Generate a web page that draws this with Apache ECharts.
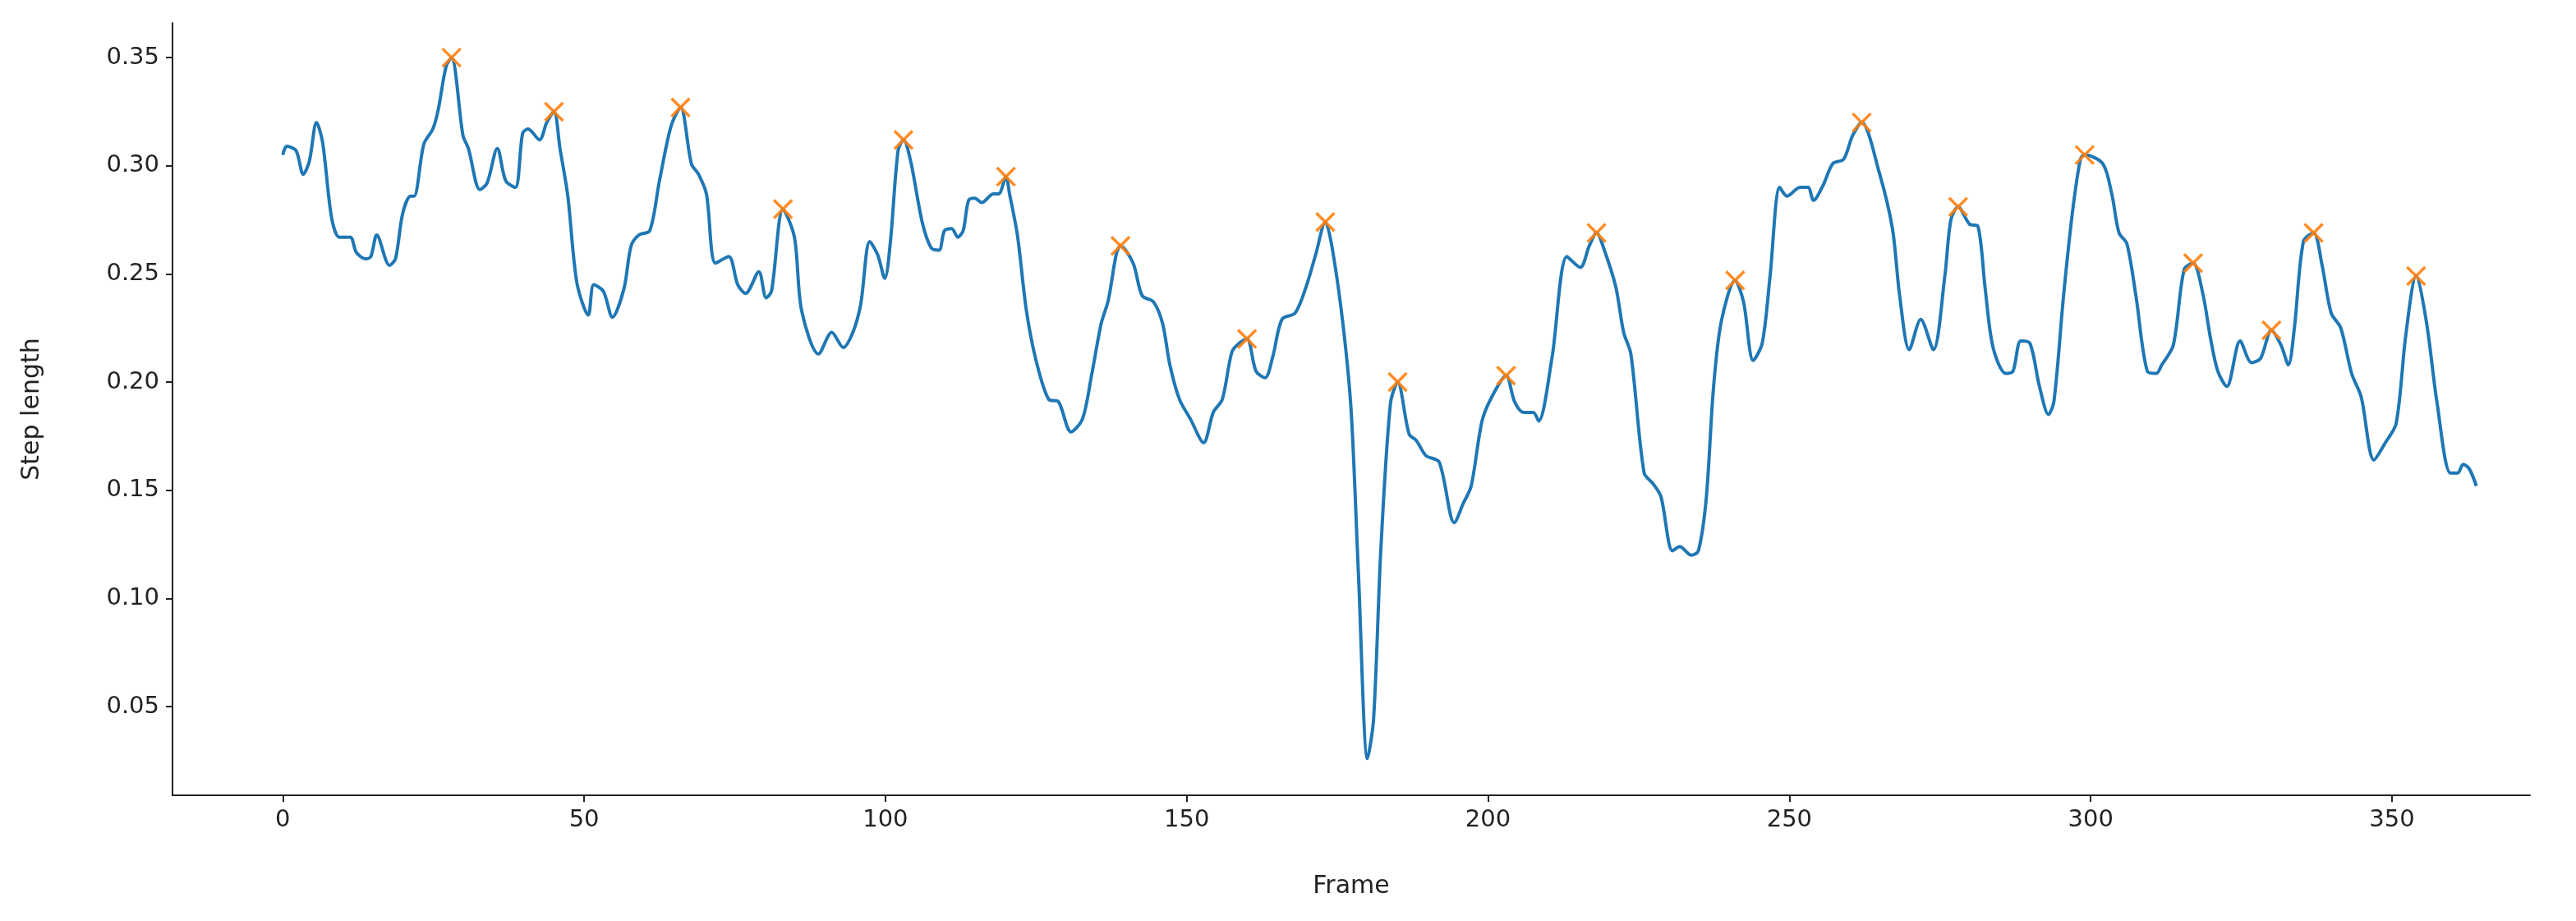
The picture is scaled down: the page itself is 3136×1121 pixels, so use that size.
<!DOCTYPE html>
<html><head><meta charset="utf-8">
<script src="https://cdn.jsdelivr.net/npm/echarts@6/dist/echarts.min.js"></script>
<style>html,body{margin:0;padding:0;background:#fff}#c{width:3136px;height:1121px}</style>
</head><body><div id="c"></div>
<script>
const frames = [0,0.65,2.2,3.4,4.4,5.6,6.6,8.1,9.4,11.2,12.2,13.7,14.6,15.6,17.7,18.7,19.9,21.2,21.8,23.4,24.9,25.8,27.1,28,29.9,30.8,32.7,33.9,35.6,37,38.6,39.8,40.7,42.6,43.8,45,46,47.3,48.8,50.7,51.6,53.2,54.7,56.6,57.8,59.1,60.9,62.5,64.4,66,67.8,69,70.3,71.8,74,75.5,76.8,79,80.2,81.1,83,84.9,86.1,88.9,91.1,93,94.6,95.9,97.4,98.7,99.9,100.8,102.1,103,104.2,106.1,107.6,108.9,109.8,111,112,112.9,113.8,114.8,116,117.9,118.8,120,120.6,121.9,123.4,125,127.1,128.7,130.8,132.7,134.2,135.8,137,138.3,139,141.1,142.6,144.5,146,147.2,148.8,150.6,152.8,154.4,155.9,157.5,158.7,160,161.5,163,164.3,165.8,168,169.8,171.4,173,174.2,176,177.3,178.5,180,181,182.2,183.8,185,186.9,188.1,189.7,191.9,194.4,195.9,197.2,199,200.6,203,204.4,205.9,207.5,208.4,210.6,213.1,215.3,216.8,218,219.3,221.2,222.5,223.7,225.9,227.4,228.7,230.6,231.8,233.7,234.9,236.2,237.4,238.7,241,242.4,244,245.5,246.8,248.4,249.6,251.8,253.1,254,255.6,257.2,259,260.5,262,264.9,267.1,268.3,269.9,271.8,273.9,275.8,276.8,278,279.9,281.3,282.5,283.8,285.9,287.1,288.4,289.9,291.5,293,293.9,295.5,297,298.3,299,302,303.5,304.7,306,307.5,309.4,310.9,311.8,313.7,315.5,317,318.6,319.9,321.1,322.6,324.8,326.7,328.2,330,331.6,332.8,333.8,335.3,337,338.4,339.9,341.5,343.3,344.9,347,348.9,350.7,352.3,354,355.7,357.5,359.7,360.9,361.8,362.8,364];
const stepLength = [0.305,0.309,0.307,0.296,0.302,0.320,0.311,0.276,0.267,0.267,0.260,0.257,0.258,0.268,0.254,0.257,0.278,0.286,0.286,0.310,0.317,0.326,0.346,0.350,0.314,0.308,0.289,0.292,0.308,0.293,0.290,0.315,0.317,0.312,0.320,0.325,0.308,0.286,0.246,0.231,0.245,0.242,0.230,0.243,0.263,0.268,0.270,0.293,0.318,0.327,0.301,0.296,0.287,0.255,0.258,0.245,0.241,0.251,0.239,0.242,0.280,0.267,0.233,0.213,0.223,0.216,0.223,0.236,0.265,0.259,0.248,0.264,0.307,0.312,0.302,0.274,0.262,0.261,0.270,0.271,0.267,0.270,0.284,0.285,0.283,0.287,0.287,0.295,0.287,0.268,0.233,0.210,0.192,0.191,0.177,0.183,0.203,0.227,0.238,0.259,0.263,0.255,0.240,0.237,0.227,0.208,0.192,0.183,0.172,0.186,0.192,0.214,0.218,0.220,0.205,0.202,0.212,0.229,0.232,0.244,0.259,0.274,0.261,0.225,0.186,0.111,0.026,0.044,0.122,0.190,0.200,0.176,0.173,0.166,0.163,0.135,0.144,0.152,0.182,0.193,0.203,0.191,0.186,0.186,0.182,0.211,0.258,0.253,0.263,0.269,0.261,0.244,0.223,0.213,0.158,0.153,0.147,0.122,0.124,0.120,0.122,0.146,0.197,0.228,0.247,0.237,0.210,0.218,0.249,0.290,0.286,0.290,0.290,0.284,0.291,0.301,0.303,0.314,0.320,0.297,0.271,0.240,0.215,0.229,0.215,0.249,0.275,0.281,0.273,0.272,0.243,0.216,0.204,0.205,0.219,0.218,0.198,0.185,0.191,0.240,0.279,0.303,0.305,0.301,0.287,0.269,0.264,0.240,0.205,0.204,0.208,0.217,0.252,0.255,0.241,0.220,0.205,0.198,0.219,0.209,0.211,0.224,0.217,0.208,0.225,0.265,0.269,0.254,0.232,0.225,0.204,0.193,0.164,0.172,0.181,0.222,0.249,0.228,0.190,0.158,0.158,0.162,0.160,0.152];
const peakFrames = [28,45,66,83,103,120,139,160,173,185,203,218,241,262,278,299,317,330,337,354];
const peakValues = [0.350,0.325,0.327,0.280,0.312,0.295,0.263,0.220,0.274,0.200,0.203,0.269,0.247,0.320,0.281,0.305,0.255,0.224,0.269,0.249];
const xTicks = [0,50,100,150,200,250,300,350];
const yTicks = [0.05,0.10,0.15,0.20,0.25,0.30,0.35];

const lineData = frames.map((f,i)=>[f,stepLength[i]]);
const peakData = peakFrames.map((f,i)=>[f,peakValues[i]]);
const font = 'DejaVu Sans';
const chart = echarts.init(document.getElementById('c'));
chart.setOption({
  animation:false,
  grid:{left:210,right:56,top:28,bottom:153,containLabel:false},
  xAxis:{type:'value',min:-18.3,max:372.9,
    name:'Frame',nameLocation:'middle',nameGap:96,
    nameTextStyle:{fontFamily:font,fontSize:30,color:'#222'},
    axisLine:{show:true,onZero:false,lineStyle:{color:'#222',width:2}},
    axisTick:{show:true,length:8,lineStyle:{color:'#222',width:2},customValues:xTicks},
    axisLabel:{fontFamily:font,fontSize:29,color:'#222',margin:16,customValues:xTicks,formatter:v=>String(v)},
    splitLine:{show:false}},
  yAxis:{type:'value',min:0.009,max:0.366,
    name:'Step length',nameLocation:'middle',nameGap:156,nameRotate:90,
    nameTextStyle:{fontFamily:font,fontSize:30,color:'#222'},
    axisLine:{show:true,onZero:false,lineStyle:{color:'#222',width:2}},
    axisTick:{show:true,length:8,lineStyle:{color:'#222',width:2},customValues:yTicks},
    axisLabel:{fontFamily:font,fontSize:29,color:'#222',margin:16,customValues:yTicks,formatter:v=>v.toFixed(2)},
    splitLine:{show:false}},
  series:[
    {type:'line',data:lineData,smooth:0.3,showSymbol:false,symbol:'none',
     lineStyle:{color:'#1f77b4',width:4},z:2},
    {type:'scatter',data:peakData,symbol:'path://M0,0L10,10M10,0L0,10',symbolSize:22,
     itemStyle:{color:'none',borderColor:'#ff7f0e',borderWidth:3.5,opacity:0.9},z:3}
  ]
});
</script></body></html>
